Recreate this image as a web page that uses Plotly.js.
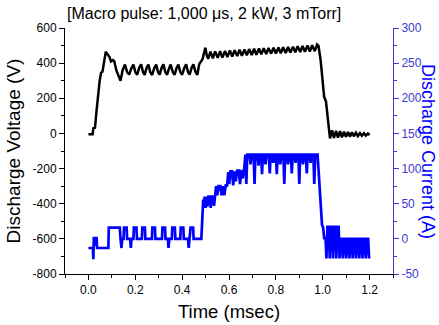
<!DOCTYPE html>
<html>
<head>
<meta charset="utf-8">
<script src="https://cdn.plot.ly/plotly-3.0.1.min.js"></script>
<style>html,body{margin:0;padding:0;background:#fff;}#chart{width:439px;height:325px;}</style>
</head>
<body>
<div id="chart"></div>
<script>
// Discharge voltage (V) vs time (ms)
const tV = [0.000,0.018,0.021,0.028,0.034,0.041,0.048,0.054,0.060,0.066,0.074,0.082,0.090,0.096,0.104,0.110,0.119,0.128,0.137,
0.146,0.156,0.165,0.174,0.183,0.192,0.200,0.208,0.217,0.225,0.233,0.240,0.248,0.256,0.264,0.272,0.281,0.289,0.297,0.304,
0.312,0.320,0.328,0.336,0.344,0.351,0.360,0.368,0.376,0.384,0.392,0.400,0.409,0.417,0.425,0.432,0.440,0.448,0.457,0.465,
0.473,0.480,0.487,0.492,0.499,0.505,0.511,0.521,0.531,0.541,0.552,0.562,0.572,0.583,0.593,0.604,0.614,0.624,0.635,0.645,
0.655,0.666,0.676,0.686,0.697,0.707,0.717,0.728,0.738,0.748,0.759,0.769,0.780,0.790,0.800,0.811,0.821,0.831,0.842,0.852,
0.862,0.873,0.883,0.893,0.904,0.914,0.924,0.935,0.945,0.955,0.966,0.976,0.982,0.991,1.000,1.006,1.014,1.024,1.031,1.040,
1.048,1.057,1.065,1.074,1.082,1.091,1.099,1.108,1.116,1.125,1.133,1.142,1.150,1.159,1.167,1.176,1.184,1.193,1.200];
const voltage = [-5,-5,30,32,120,220,300,345,352,400,465,450,435,410,418,412,360,330,300,
360,392,350,335,370,392,350,334,375,393,350,333,372,392,348,333,372,392,350,334,
372,393,350,334,370,392,350,334,372,392,350,334,372,393,350,334,372,393,350,334,
395,410,422,450,488,445,425,465,428,467,430,468,432,470,435,472,438,474,440,476,
442,478,445,480,446,482,448,483,450,485,452,486,454,488,455,489,456,490,458,492,
460,494,462,496,463,498,465,500,466,502,468,506,498,418,300,209,181,38,-28,18,
-26,15,-24,13,-22,10,-20,8,-18,6,-16,4,-15,2,-13,1,-12,0,-10];

// Discharge current (A) vs time (ms)
const tI = [0.000,0.019,0.021,0.023,0.027,0.029,0.031,0.035,0.037,0.085,0.087,0.134,0.137,0.141,0.144,0.150,0.152,0.163,0.165,
0.178,0.181,0.184,0.192,0.194,0.205,0.207,0.228,0.230,0.241,0.243,0.271,0.273,0.284,0.286,0.314,0.316,0.327,0.329,0.339,
0.342,0.345,0.356,0.358,0.369,0.371,0.392,0.394,0.405,0.407,0.425,0.428,0.431,0.434,0.436,0.447,0.449,0.482,0.487,0.490,
0.493,0.496,0.500,0.504,0.508,0.512,0.518,0.522,0.526,0.532,0.536,0.540,0.545,0.550,0.555,0.563,0.568,0.573,0.580,0.586,
0.592,0.597,0.601,0.606,0.613,0.618,0.623,0.629,0.635,0.642,0.647,0.653,0.659,0.665,0.670,0.674,0.678,0.688,0.692,0.696,
0.705,0.709,0.713,0.722,0.726,0.730,0.737,0.741,0.745,0.752,0.756,0.760,0.770,0.774,0.778,0.785,0.789,0.793,0.800,0.804,
0.808,0.815,0.819,0.823,0.832,0.836,0.840,0.848,0.852,0.856,0.864,0.868,0.872,0.880,0.884,0.888,0.896,0.900,0.904,0.912,
0.916,0.920,0.928,0.932,0.936,0.944,0.948,0.952,0.960,0.964,0.968,0.978,0.984,0.990,0.997,1.002,1.006,1.012,1.016,1.020,
1.026,1.030,1.035,1.040,1.044,1.049,1.054,1.058,1.063,1.068,1.072,1.077,1.082,1.086,1.091,1.096,1.100,1.105,1.110,1.114,
1.119,1.124,1.128,1.133,1.138,1.142,1.147,1.152,1.156,1.161,1.166,1.170,1.175,1.180,1.184,1.189,1.194,1.198];
const current = [-13,-13,-29,1,1,-10,1,1,-13,-13,16,16,0,-13,0,0,16,16,0,
0,-13,0,0,16,16,0,0,16,16,0,0,16,16,0,0,16,16,0,0,
-13,0,0,16,16,0,0,16,16,0,0,-13,0,0,16,16,0,0,30,56,
44,60,44,60,46,60,60,44,60,60,47,62,75,62,75,75,62,75,62,76,
76,95,78,96,96,76,96,82,97,97,78,98,86,100,120,78,120,120,106,120,
120,78,120,120,104,120,120,92,120,120,106,120,120,93,120,120,108,120,120,92,
120,120,106,120,120,78,120,120,106,120,120,93,120,120,108,120,120,78,120,120,
106,120,120,93,120,120,108,120,120,78,120,120,85,50,20,16,1,1,-28,17,
17,-28,17,17,-28,17,17,-28,17,17,-28,0,0,-28,0,0,-28,0,0,-28,
0,0,-28,0,0,-28,0,0,-28,0,0,-28,0,0,-28,0,0,-28];

const xTickVals = [0.0,0.2,0.4,0.6,0.8,1.0,1.2];
const xTickText = ["0.0","0.2","0.4","0.6","0.8","1.0","1.2"];
const yTickVals = [-800,-600,-400,-200,0,200,400,600];
const yTickText = ["-800","-600","-400","-200","0","200","400","600"];
const y2TickVals = [-50,0,50,100,150,200,250,300];
const y2TickText = ["-50","0","50","100","150","200","250","300"];

const FONT = "Liberation Sans, Arial, sans-serif";
const BLUE = "#0000ff";
const BLUE_AX = "#3c3cd2";

const traces = [
  {x: tV, y: voltage, type: "scatter", mode: "lines", line: {color: "#000000", width: 2.5}, xaxis: "x", yaxis: "y", hoverinfo: "skip"},
  {x: tI, y: current, type: "scatter", mode: "lines", line: {color: BLUE, width: 2.7}, xaxis: "x", yaxis: "y2", hoverinfo: "skip"}
];

const layout = {
  width: 439, height: 325,
  margin: {l: 65, r: 46, t: 28, b: 51},
  paper_bgcolor: "#ffffff", plot_bgcolor: "#ffffff",
  showlegend: false,
  font: {family: FONT, size: 12, color: "#000"},
  title: {text: "[Macro pulse: 1,000 \u03bcs, 2 kW, 3 mTorr]", font: {family: FONT, size: 16, color: "#000"},
          xref: "container", x: 0.465, xanchor: "center", yref: "container", y: 0.96, yanchor: "middle"},
  xaxis: {range: [-0.1, 1.3], tickvals: xTickVals, ticktext: xTickText, ticks: "outside", ticklen: 5, tickcolor: "#000",
          minor: {dtick: 0.1, tick0: 0, ticks: "outside", ticklen: 3, tickcolor: "#000", showgrid: false},
          showline: true, linecolor: "#000", linewidth: 1, showgrid: false, zeroline: false,
          tickfont: {family: FONT, size: 12, color: "#000"},
          title: {text: "Time (msec)", font: {family: FONT, size: 18.5, color: "#000"}, standoff: 8}},
  xaxis2: {range: [-0.1, 1.3], overlaying: "x", anchor: "y", side: "top", tickvals: xTickVals, ticks: "inside", ticklen: 5, tickcolor: "#000",
          minor: {dtick: 0.1, tick0: 0, ticks: "inside", ticklen: 3, tickcolor: "#000", showgrid: false},
          showticklabels: false, showline: true, linecolor: "#000", linewidth: 1, showgrid: false, zeroline: false},
  yaxis: {range: [-800, 600], tickvals: yTickVals, ticktext: yTickText, ticks: "outside", ticklen: 5, tickcolor: "#000",
          minor: {dtick: 100, tick0: 0, ticks: "outside", ticklen: 3, tickcolor: "#000", showgrid: false},
          showline: true, linecolor: "#000", linewidth: 1, showgrid: false, zeroline: false,
          tickfont: {family: FONT, size: 12, color: "#000"},
          title: {text: "Discharge Voltage (V)", font: {family: FONT, size: 19, color: "#000"}, standoff: 6}},
  yaxis2: {range: [-50, 300], overlaying: "y", side: "right", anchor: "x", tickvals: y2TickVals, ticktext: y2TickText,
          ticks: "outside", ticklen: 5, tickcolor: BLUE_AX,
          minor: {dtick: 25, tick0: 0, ticks: "outside", ticklen: 3, tickcolor: BLUE_AX, showgrid: false},
          showline: true, linecolor: BLUE_AX, linewidth: 1, showgrid: false, zeroline: false,
          tickfont: {family: FONT, size: 12, color: BLUE_AX}},
  annotations: [
    {text: "Discharge Current (A)", xref: "paper", yref: "paper", x: 1, xshift: 35, y: 0.5, showarrow: false,
     textangle: 90, font: {family: FONT, size: 18, color: BLUE}, xanchor: "center", yanchor: "middle"}
  ]
};

Plotly.newPlot("chart", traces, layout, {displayModeBar: false, staticPlot: true});
</script>
</body>
</html>
